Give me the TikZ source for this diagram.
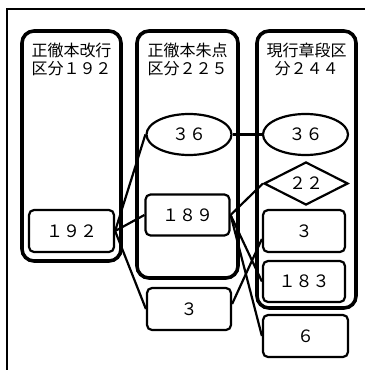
\documentclass[tikz,border=0pt]{standalone}
\usepackage{fontspec}
\setmainfont{Noto Sans CJK JP}
\usetikzlibrary{shapes.geometric}
\tikzset{
  container/.style={draw, line width=3.6pt, rounded corners=12pt, inner sep=0pt},
  title/.style={align=center, inner sep=0pt, font=\fontsize{16}{18.5}\selectfont},
  numbox/.style={draw, line width=2.2pt, rounded corners=5pt, fill=white, inner sep=0pt,
    font=\fontsize{17}{18}\selectfont},
  numoval/.style={draw, ellipse, line width=2.2pt, fill=white, inner sep=0pt,
    font=\fontsize{17}{18}\selectfont},
  numdiamond/.style={draw, diamond, aspect=2, line width=2.2pt, fill=white, inner sep=0pt,
    font=\fontsize{17}{18}\selectfont},
  link/.style={line width=2.2pt},
  frame/.style={line width=1.3pt}
}
\begin{document}
\begin{tikzpicture}[x=1pt, y=-1pt]
\useasboundingbox (0,0) rectangle (365,370);
\coordinate (fa) at (7,370);
\coordinate (fb) at (7,9);
\coordinate (fc) at (365,9);
\draw[frame] (fa) -- (fb) -- (fc);

% containers
\node[container, minimum width=99pt, minimum height=230pt] (g1) at (71.5,146) {};
\node[container, minimum width=101pt, minimum height=247pt] (g2) at (187.5,154.5) {};
\node[container, minimum width=99pt, minimum height=277pt] (g3) at (306.5,169.5) {};

% titles
\node[title] (t1) at (71.5,59.5) {正徹本改行\\区分１９２};
\node[title] (t2) at (187.5,59.5) {正徹本朱点\\区分２２５};
\node[title] (t3) at (306.5,59.5) {現行章段区\\分２４４};

% inner nodes
\node[numbox, minimum width=85pt, minimum height=42pt] (b192) at (71.5,231) {１９２};
\node[numoval, minimum width=85pt, minimum height=41pt] (e36a) at (189,134.5) {３６};
\node[numbox, minimum width=84pt, minimum height=41pt] (b189) at (187.5,215) {１８９};
\node[numbox, minimum width=84pt, minimum height=42pt] (b3b) at (189,309) {３};
\node[numoval, minimum width=85pt, minimum height=41pt] (e36b) at (305.5,134.5) {３６};
\node[numdiamond, minimum width=84pt, minimum height=43pt] (d22) at (306,183.5) {２２};
\node[numbox, minimum width=82pt, minimum height=42pt] (b3a) at (304,231) {３};
\node[numbox, minimum width=82pt, minimum height=41pt] (b183) at (304,281.5) {１８３};
\node[numbox, minimum width=85pt, minimum height=42pt] (b6) at (305.5,336) {６};

% connectors
\draw[link] (b192.east) -- (e36a.west);
\draw[link] (b192.east) -- (b189.west);
\draw[link] (b192.east) -- (b3b.west);
\draw[link] (e36a.east) -- (e36b.west);
\draw[link] (b189.east) -- (d22.west);
\draw[link] (b189.east) -- (b183.west);
\draw[link] (b189.east) -- (b6.west);
\draw[link] ([yshift=5pt]b3b.east) -- ([yshift=-8pt]b3a.west);
\end{tikzpicture}
\end{document}
